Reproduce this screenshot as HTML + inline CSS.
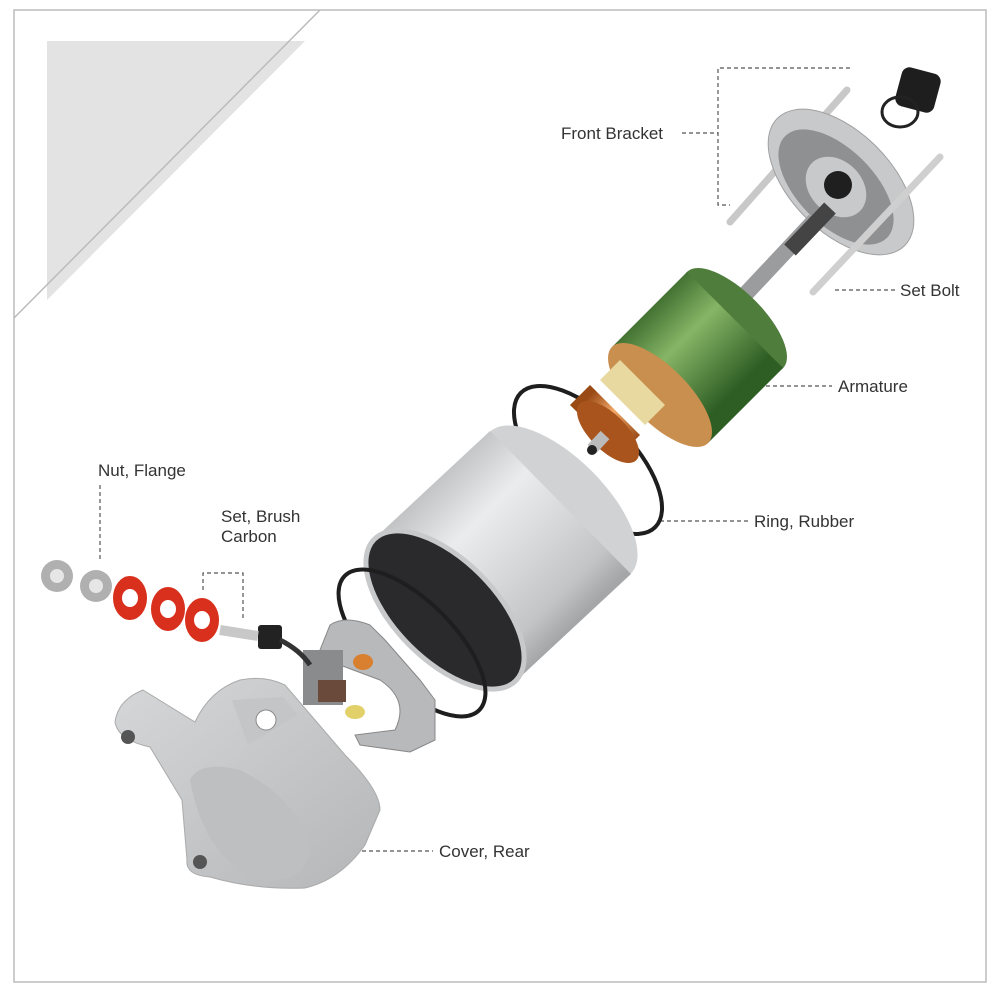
<!DOCTYPE html>
<html><head><meta charset="utf-8"><style>
html,body{margin:0;padding:0;background:#fff}
svg{display:block}
text{font-family:"Liberation Sans",sans-serif;font-size:17px;fill:#333}
</style></head><body>
<svg width="1000" height="1000" viewBox="0 0 1000 1000">
<defs>
<linearGradient id="steel" gradientUnits="userSpaceOnUse" x1="374" y1="539" x2="516" y2="681">
<stop offset="0" stop-color="#c0c2c4"/><stop offset="0.3" stop-color="#ebeced"/><stop offset="0.6" stop-color="#d6d7d8"/><stop offset="0.85" stop-color="#c2c4c6"/><stop offset="1" stop-color="#a4a6a8"/></linearGradient>
<linearGradient id="green" gradientUnits="userSpaceOnUse" x1="625" y1="330" x2="710" y2="415">
<stop offset="0" stop-color="#3f6e30"/><stop offset="0.4" stop-color="#86b566"/><stop offset="1" stop-color="#2f5e25"/></linearGradient>
<linearGradient id="copper" gradientUnits="userSpaceOnUse" x1="590" y1="395" x2="640" y2="445">
<stop offset="0" stop-color="#9a4a15"/><stop offset="0.4" stop-color="#f2a868"/><stop offset="1" stop-color="#8a3a0a"/></linearGradient>
<linearGradient id="alu" x1="0" y1="0" x2="1" y2="1">
<stop offset="0" stop-color="#d6d7d8"/><stop offset="1" stop-color="#b4b6b8"/></linearGradient>
</defs>
<rect x="14" y="10" width="972" height="972" fill="none" stroke="#bbb" stroke-width="1.5"/>
<polygon points="47,41 305,41 47,300" fill="#e3e3e3"/>
<line x1="320" y1="10" x2="14" y2="318" stroke="#bbb" stroke-width="1.5"/>

<g stroke="#555" stroke-width="1.2" stroke-dasharray="4,3" fill="none">
<polyline points="850,68 718,68 718,205 730,205"/>
<line x1="682" y1="133" x2="718" y2="133"/>
<line x1="835" y1="290" x2="895" y2="290"/>
<line x1="745" y1="386" x2="832" y2="386"/>
<line x1="660" y1="521" x2="748" y2="521"/>
<line x1="355" y1="851" x2="433" y2="851"/>
<line x1="100" y1="485" x2="100" y2="562"/>
<polyline points="203,590 203,573 243,573 243,620"/>
</g>
<text x="561" y="139">Front Bracket</text>
<text x="900" y="296">Set Bolt</text>
<text x="838" y="392">Armature</text>
<text x="754" y="527">Ring, Rubber</text>
<text x="439" y="857">Cover, Rear</text>
<text x="98" y="476">Nut, Flange</text>
<text x="221" y="522">Set, Brush</text>
<text x="221" y="542">Carbon</text>

<line x1="730" y1="222" x2="847" y2="90" stroke="#c8c8c8" stroke-width="7" stroke-linecap="round"/>
<ellipse cx="841" cy="182" rx="90" ry="50" transform="rotate(45 841 182)" fill="#c8c9ca" stroke="#a0a0a0"/>
<ellipse cx="836" cy="187" rx="72" ry="38" transform="rotate(45 836 187)" fill="#8e9092"/>
<ellipse cx="836" cy="187" rx="34" ry="26" transform="rotate(45 836 187)" fill="#c8c9ca"/>
<circle cx="838" cy="185" r="14" fill="#1f1f1f"/>
<line x1="813" y1="292" x2="940" y2="157" stroke="#cfcfcf" stroke-width="7" stroke-linecap="round"/>
<rect x="898" y="70" width="40" height="40" rx="8" fill="#1e1e1e" transform="rotate(15 918 90)"/>
<ellipse cx="900" cy="112" rx="18" ry="15" fill="none" stroke="#222" stroke-width="3"/>

<line x1="740" y1="300" x2="815" y2="220" stroke="#9a9c9e" stroke-width="16"/>
<line x1="790" y1="250" x2="830" y2="208" stroke="#444" stroke-width="16"/>

<ellipse cx="588" cy="460" rx="95" ry="44" transform="rotate(45 588 460)" fill="none" stroke="#1e1e1e" stroke-width="4"/>

<g>
<ellipse cx="735" cy="320" rx="68" ry="28" transform="rotate(45 735 320)" fill="#4f7d3c"/>
<polygon points="687,272 783,368 708,443 612,347" fill="url(#green)"/>
<ellipse cx="660" cy="395" rx="68" ry="28" transform="rotate(45 660 395)" fill="#c98f4f"/>
<polygon points="620,360 665,405 645,425 600,380" fill="#e8d9a0"/>
<polygon points="590,385 640,435 620,455 570,405" fill="url(#copper)"/>
<ellipse cx="608" cy="432" rx="40" ry="18" transform="rotate(45 608 432)" fill="#a8541c"/>
<line x1="605" y1="435" x2="592" y2="449" stroke="#bbb" stroke-width="12"/>
<circle cx="592" cy="450" r="5" fill="#222"/>
</g>

<ellipse cx="560" cy="503" rx="100" ry="45" transform="rotate(45 560 503)" fill="#d0d2d3"/>
<polygon points="374,539 490,431 631,574 516,681" fill="url(#steel)"/>
<ellipse cx="445" cy="610" rx="100" ry="50" transform="rotate(45 445 610)" fill="#2a2a2c" stroke="#c8c9ca" stroke-width="5"/>

<ellipse cx="412" cy="643" rx="95" ry="42" transform="rotate(45 412 643)" fill="none" stroke="#1e1e1e" stroke-width="4"/>

<path d="M330,625 Q345,615 370,625 L385,640 L420,680 L435,700 L435,740 L410,752 L360,745 L355,735 L395,730 Q410,700 380,680 L340,665 L320,650 Z" fill="#b8b9bb" stroke="#888"/>
<rect x="303" y="650" width="40" height="55" fill="#8a8b8d"/>
<rect x="318" y="680" width="28" height="22" fill="#6a4a3a"/>
<ellipse cx="363" cy="662" rx="10" ry="8" fill="#d88030"/>
<ellipse cx="355" cy="712" rx="10" ry="7" fill="#e2d068"/>
<rect x="258" y="625" width="24" height="24" rx="3" fill="#222"/>
<path d="M280,640 Q300,650 310,665" stroke="#333" stroke-width="5" fill="none"/>
<line x1="220" y1="630" x2="258" y2="636" stroke="#c8c8c8" stroke-width="10"/>

<g>
<circle cx="57" cy="576" r="16" fill="#b0b0b0"/><circle cx="57" cy="576" r="7" fill="#e6e6e6"/>
<circle cx="96" cy="586" r="16" fill="#b0b0b0"/><circle cx="96" cy="586" r="7" fill="#e6e6e6"/>
<ellipse cx="130" cy="598" rx="17" ry="22" fill="#d8301c"/><ellipse cx="130" cy="598" rx="8" ry="9" fill="#fff"/>
<ellipse cx="168" cy="609" rx="17" ry="22" fill="#d8301c"/><ellipse cx="168" cy="609" rx="8" ry="9" fill="#fff"/>
<ellipse cx="202" cy="620" rx="17" ry="22" fill="#d8301c"/><ellipse cx="202" cy="620" rx="8" ry="9" fill="#fff"/>
</g>

<path d="M115,722 Q118,700 143,690 L195,722 Q210,690 240,680 Q265,675 285,685 L345,755 Q380,790 380,810 L365,845 Q340,880 305,888 Q255,890 210,877 Q185,875 187,860 L182,800 L150,747 Q118,740 115,722 Z" fill="url(#alu)" stroke="#aaa"/>
<path d="M190,780 Q200,760 240,770 Q300,800 310,850 Q305,885 260,880 Q205,860 190,780 Z" fill="#bebfc1"/>
<polygon points="232,700 283,697 298,715 248,745" fill="#c4c5c6"/>
<circle cx="266" cy="720" r="10" fill="#fff" stroke="#888"/>
<circle cx="128" cy="737" r="7" fill="#555"/>
<circle cx="200" cy="862" r="7" fill="#555"/>
</svg>
</body></html>
